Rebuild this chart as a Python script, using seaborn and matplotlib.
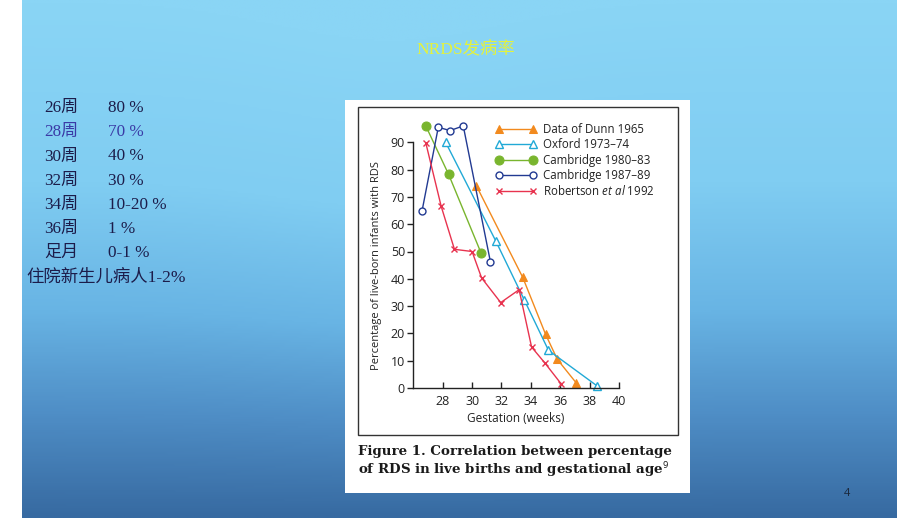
import numpy as np
import pandas as pd
import matplotlib.pyplot as plt
import seaborn as sns
from matplotlib.patches import Rectangle
from matplotlib.colors import LinearSegmentedColormap

# ---------------------------------------------------------------------------
# Data (gestation in weeks, % of live-born infants with RDS)
# ---------------------------------------------------------------------------
dunn_weeks = [30.3, 33.45, 35.0, 35.8, 37.1]
dunn_pct = [74, 40.5, 19.7, 10.5, 1.8]

oxford_weeks = [28.2, 31.6, 33.55, 35.2, 38.5]
oxford_pct = [90, 54, 32.3, 13.8, 0.8]

camb80_weeks = [26.85, 28.4, 30.6]
camb80_pct = [96, 78.3, 49.6]

camb87_weeks = [26.6, 27.7, 28.5, 29.4, 31.25]
camb87_pct = [65, 95.5, 94.3, 96, 46.2]

robertson_weeks = [26.85, 27.9, 28.8, 30.0, 30.65, 31.95, 33.2, 34.05, 34.95, 36.05]
robertson_pct = [89.8, 66.5, 50.8, 50.0, 40.3, 31.3, 36.0, 15.0, 9.2, 1.6]

series_labels = ["Data of Dunn 1965", "Oxford 1973\u201374", "Cambridge 1980\u201383",
                 "Cambridge 1987\u201389", "Robertson $\\it{et\\ al}$ 1992"]

x_ticks = [28, 30, 32, 34, 36, 38, 40]
y_ticks = [0, 10, 20, 30, 40, 50, 60, 70, 80, 90]

slide_title = "NRDS发病率"
week_labels = ["26周", "28周", "30周", "32周", "34周", "36周", "足月"]
rate_labels = ["80 %", "70 %", "40 %", "30 %", "10-20 %", "1 %", "0-1 %"]
footer_note = "住院新生儿病人1-2%"
caption = ["Figure 1. Correlation between percentage",
           "of RDS in live births and gestational age$^{9}$"]

# ---------------------------------------------------------------------------
# Style
# ---------------------------------------------------------------------------
sns.set_style("ticks")
plt.rcParams["font.family"] = ["Open Sans", "DejaVu Sans"]
plt.rcParams["mathtext.fontset"] = "custom"
plt.rcParams["mathtext.it"] = "Open Sans:italic"
plt.rcParams["mathtext.rm"] = "Open Sans"

W, H = 920, 518
fig = plt.figure(figsize=(W / 100, H / 100), dpi=100)
fig.patch.set_facecolor("white")


def fx(px):
    return px / W


def fy(py):
    return 1 - py / H


# slide background gradient
bg = fig.add_axes([fx(22), 0, fx(897) - fx(22), 1], zorder=-10)
cmap = LinearSegmentedColormap.from_list(
    "slide", [(0, "#8ad5f5"), (0.35, "#80cdf2"), (0.6, "#68b4e4"),
              (0.8, "#4f8ec6"), (1, "#376aa1")])
yy = np.linspace(0, 1, 300)[:, None]
xx = np.linspace(0, 1, 200)[None, :]
grad = yy - 0.08 * np.exp(-((xx - 0.42) / 0.18) ** 2) * (1 - yy)
bg.imshow(grad, cmap=cmap, aspect="auto", extent=[0, 1, 1, 0], vmin=0, vmax=1)
bg.axis("off")

# white picture box and its frame
fig.patches.append(Rectangle((fx(345), fy(493)), fx(690) - fx(345), fy(100) - fy(493),
                             transform=fig.transFigure, facecolor="white",
                             edgecolor="none", zorder=-5))
fig.patches.append(Rectangle((fx(358), fy(435)), fx(678) - fx(358), fy(107) - fy(435),
                             transform=fig.transFigure, facecolor="none",
                             edgecolor="#333333", lw=1.0, zorder=-4))

# ---------------------------------------------------------------------------
# Chart
# ---------------------------------------------------------------------------
ax = fig.add_axes([fx(413.3), fy(388), fx(619) - fx(413.3), fy(115) - fy(388)])
ax.set_facecolor("none")

styles = [
    (dunn_weeks, dunn_pct, "#f28a1e", dict(marker="^", ms=6, mfc="#f28a1e", mec="#f28a1e")),
    (oxford_weeks, oxford_pct, "#21a9d6", dict(marker="^", ms=6, mfc="white", mec="#21a9d6", mew=1)),
    (camb80_weeks, camb80_pct, "#79b52e", dict(marker="o", ms=6.5, mfc="#79b52e", mec="#79b52e")),
    (camb87_weeks, camb87_pct, "#223a92", dict(marker="o", ms=5, mfc="white", mec="#223a92", mew=1)),
    (robertson_weeks, robertson_pct, "#e8334f", dict(marker="x", ms=5, mec="#e8334f", mew=1)),
]

for (wk, pct, col, mk), lab in zip(styles, series_labels):
    df = pd.DataFrame({"weeks": wk, "pct": pct})
    sns.lineplot(data=df, x="weeks", y="pct", ax=ax, color=col, lw=1.0,
                 estimator=None, sort=False, label=lab, clip_on=False, **mk)

ax.set_xlim(26, 40)
ax.set_ylim(0, 100)
ax.set_xticks(x_ticks)
ax.set_yticks(y_ticks)
ax.tick_params(axis="x", direction="in", length=4, width=1, labelsize=9, pad=5, colors="#222222")
ax.tick_params(axis="y", direction="out", length=4, width=1, labelsize=9, pad=2, colors="#222222")
sns.despine(ax=ax)
ax.spines["left"].set_bounds(0, 90)
ax.spines["bottom"].set_bounds(26, 40)
for s in ("left", "bottom"):
    ax.spines[s].set_color("#222222")
    ax.spines[s].set_linewidth(1.0)

ax.set_xlabel("Gestation (weeks)", fontsize=8.5, color="#222222", labelpad=3)
ax.set_ylabel("Percentage of live-born infants with RDS", fontsize=8, color="#222222")
ax.yaxis.set_label_coords(-0.15, 0.45)

ax.legend(loc="upper left", bbox_to_anchor=(fx(496), fy(123)), bbox_transform=fig.transFigure,
          frameon=False, numpoints=2, fontsize=8.3, handlelength=3.5, handletextpad=0.55,
          labelspacing=0.2, borderpad=0, borderaxespad=0, labelcolor="#222222")

# caption under the chart
for i, line in enumerate(caption):
    fig.text(fx(358), fy(452 + 18 * i), line, fontsize=9.6, fontweight="bold",
             family=["DejaVu Serif"], va="center", ha="left", color="#1a1a1a")

# ---------------------------------------------------------------------------
# Slide texts
# ---------------------------------------------------------------------------
cjk = ["Liberation Serif", "Noto Sans CJK SC"]
fig.text(fx(466), fy(50), slide_title, fontsize=12.5, color="#e4f23c",
         family=cjk, ha="center", va="center")
for i, (wk, rt) in enumerate(zip(week_labels, rate_labels)):
    c = "#3a3aa6" if i == 1 else "#1c1c4a"
    fig.text(fx(44), fy(108 + 24.2 * i), wk, fontsize=12.3, color=c, family=cjk, va="center")
    fig.text(fx(108), fy(108 + 24.2 * i), rt, fontsize=12.3, color=c, family=cjk, va="center")
fig.text(fx(26), fy(278), footer_note, fontsize=12.5, color="#1c1c4a", family=cjk, va="center")
fig.text(fx(847), fy(494), "4", fontsize=8, color="#1a2638", ha="center", va="center")

fig.savefig("out.png", dpi=100)
